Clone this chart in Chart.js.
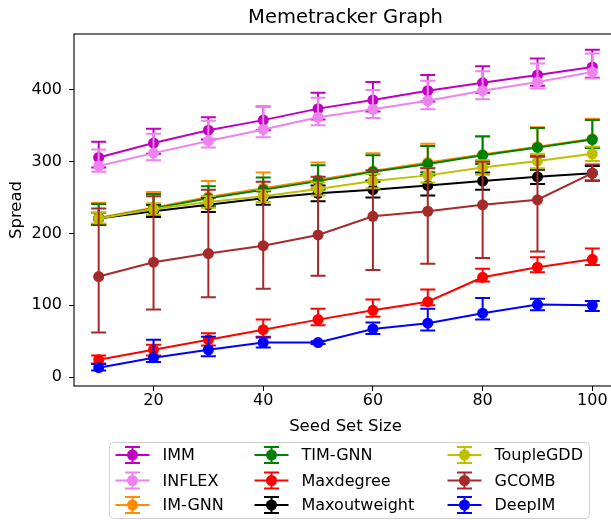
<!DOCTYPE html>
<html>
<head>
<meta charset="utf-8">
<title>Memetracker Graph</title>
<script src="https://cdn.jsdelivr.net/npm/chart.js@4"></script>
<style>
  html, body { margin: 0; padding: 0; background: #fff; overflow: hidden; }
  canvas { display: block; }
</style>
</head>
<body>
<canvas id="spreadChart" width="625" height="520"></canvas>
<script>
const seedSizes = [10, 20, 30, 40, 50, 60, 70, 80, 90, 100];
const xTicks = [20, 40, 60, 80, 100];
const yTicks = [0, 100, 200, 300, 400];

// mean spread per seed size, with the error above and below the mean
const immSpread = [306, 326, 344, 358, 374, 386, 399, 410, 421, 432];
const immErrUp = [22, 20, 18, 19, 22, 25, 22, 23, 23, 24];
const immErrDown = [14, 15, 13, 14, 15, 16, 15, 14, 15, 15];

const inflexSpread = [294, 312, 329, 345, 362, 373, 385, 399, 411, 425];
const inflexErrUp = [23, 27, 28, 32, 27, 27, 28, 27, 26, 26];
const inflexErrDown = [8, 10, 9, 11, 11, 12, 12, 12, 9, 9];

const imGnnSpread = [222, 236, 251, 263, 275, 287, 299, 310, 321, 332];
const imGnnErrUp = [21, 22, 22, 22, 24, 25, 26, 26, 27, 28];
const imGnnErrDown = [10, 11, 12, 12, 12, 13, 13, 13, 12, 12];

const timGnnSpread = [221, 235, 249, 261, 273, 286, 297, 309, 320, 331];
const timGnnErrUp = [20, 20, 17, 17, 22, 23, 25, 26, 27, 27];
const timGnnErrDown = [9, 10, 11, 11, 12, 12, 12, 12, 12, 12];

const maxdegreeSpread = [24, 38, 52, 66, 80, 93, 105, 139, 153, 164];
const maxdegreeErrUp = [6, 7, 9, 14, 15, 15, 17, 12, 14, 15];
const maxdegreeErrDown = [5, 8, 8, 10, 8, 9, 5, 6, 7, 8];

const maxoutweightSpread = [221, 231, 240, 249, 256, 261, 267, 273, 279, 284];
const maxoutweightErrUp = [8, 9, 10, 10, 11, 11, 14, 12, 10, 10];
const maxoutweightErrDown = [8, 8, 10, 9, 11, 11, 14, 12, 10, 10];

const toupleGddSpread = [221, 234, 244, 252, 262, 273, 281, 292, 301, 311];
const toupleGddErrUp = [8, 8, 8, 8, 9, 10, 10, 10, 10, 10];
const toupleGddErrDown = [7, 8, 8, 8, 9, 10, 10, 10, 10, 10];

const gcombSpread = [140, 160, 172, 183, 198, 224, 231, 240, 247, 284];
const gcombErrUp = [95, 92, 89, 89, 81, 64, 60, 60, 60, 12];
const gcombErrDown = [78, 66, 61, 60, 57, 75, 73, 74, 72, 11];

const deepImSpread = [13, 27, 38, 48, 48, 67, 75, 89, 101, 100];
const deepImErrUp = [5, 25, 18, 7, 2, 9, 20, 21, 8, 6];
const deepImErrDown = [4, 6, 9, 7, 2, 7, 10, 9, 8, 8];

const series = [
  { name: 'IMM', color: '#bf00bf', values: immSpread, up: immErrUp, down: immErrDown },
  { name: 'INFLEX', color: '#ee82ee', values: inflexSpread, up: inflexErrUp, down: inflexErrDown },
  { name: 'IM-GNN', color: '#ff8c00', values: imGnnSpread, up: imGnnErrUp, down: imGnnErrDown },
  { name: 'TIM-GNN', color: '#008000', values: timGnnSpread, up: timGnnErrUp, down: timGnnErrDown },
  { name: 'Maxdegree', color: '#ff0000', values: maxdegreeSpread, up: maxdegreeErrUp, down: maxdegreeErrDown },
  { name: 'Maxoutweight', color: '#000000', values: maxoutweightSpread, up: maxoutweightErrUp, down: maxoutweightErrDown },
  { name: 'ToupleGDD', color: '#bfbf00', values: toupleGddSpread, up: toupleGddErrUp, down: toupleGddErrDown },
  { name: 'GCOMB', color: '#a52a2a', values: gcombSpread, up: gcombErrUp, down: gcombErrDown },
  { name: 'DeepIM', color: '#0000ff', values: deepImSpread, up: deepImErrUp, down: deepImErrDown }
];

const FONT = 'DejaVu Sans';
const CAP = 7.5;

// error bars are drawn just before their own line, like matplotlib does
const errorBars = {
  id: 'errorBars',
  beforeDatasetDraw(chart, args) {
    const s = series[args.index];
    const yScale = chart.scales.y;
    const ctx = chart.ctx;
    const area = chart.chartArea;
    ctx.save();
    ctx.beginPath();
    ctx.rect(area.left, area.top, area.right - area.left, area.bottom - area.top);
    ctx.clip();
    ctx.strokeStyle = s.color;
    ctx.lineWidth = 2;
    args.meta.data.forEach((pt, i) => {
      const v = s.values[i];
      const yTop = yScale.getPixelForValue(v + s.up[i]);
      const yBot = yScale.getPixelForValue(v - s.down[i]);
      ctx.beginPath();
      ctx.moveTo(pt.x, yTop);
      ctx.lineTo(pt.x, yBot);
      ctx.moveTo(pt.x - CAP, yTop);
      ctx.lineTo(pt.x + CAP, yTop);
      ctx.moveTo(pt.x - CAP, yBot);
      ctx.lineTo(pt.x + CAP, yBot);
      ctx.stroke();
    });
    ctx.restore();
  }
};

const frameAndLegend = {
  id: 'frameAndLegend',
  afterDatasetsDraw(chart) {
    const { ctx, chartArea: a } = chart;
    ctx.save();
    ctx.strokeStyle = '#000';
    ctx.lineWidth = 1.1;
    ctx.strokeRect(a.left, a.top, a.right - a.left, a.bottom - a.top);
    ctx.restore();
  },
  afterDraw(chart) {
    const { ctx, chartArea: a } = chart;
    ctx.save();

    // title
    ctx.fillStyle = '#000';
    ctx.font = `19.5px "${FONT}"`;
    ctx.textAlign = 'center';
    ctx.textBaseline = 'middle';
    ctx.fillText('Memetracker Graph', (a.left + a.right) / 2, 18);

    // legend box
    const box = { x: 109.5, y: 442.5, w: 480, h: 76 };
    ctx.beginPath();
    ctx.roundRect(box.x, box.y, box.w, box.h, 4);
    ctx.fillStyle = 'rgba(255,255,255,0.8)';
    ctx.fill();
    ctx.strokeStyle = '#d0d0d0';
    ctx.lineWidth = 1;
    ctx.stroke();

    const colX = [6, 145, 338];
    const rowY = [12.5, 38, 62.5];
    ctx.font = `16px "${FONT}"`;
    ctx.textAlign = 'left';
    series.forEach((s, i) => {
      const hx = box.x + colX[Math.floor(i / 3)];
      const hy = box.y + rowY[i % 3];
      const cx = hx + 17;
      ctx.strokeStyle = s.color;
      ctx.fillStyle = s.color;
      ctx.lineWidth = 2;
      ctx.beginPath();
      ctx.moveTo(hx, hy);
      ctx.lineTo(hx + 34, hy);
      ctx.moveTo(cx, hy - 8);
      ctx.lineTo(cx, hy + 8);
      ctx.moveTo(cx - CAP, hy - 8);
      ctx.lineTo(cx + CAP, hy - 8);
      ctx.moveTo(cx - CAP, hy + 8);
      ctx.lineTo(cx + CAP, hy + 8);
      ctx.stroke();
      ctx.beginPath();
      ctx.arc(cx, hy, 5.5, 0, Math.PI * 2);
      ctx.fill();
      ctx.fillStyle = '#000';
      ctx.fillText(s.name, hx + 47, hy + 1);
    });
    ctx.restore();
  }
};

const datasets = series.map((s, i) => ({
  label: s.name,
  data: s.values.map((v, j) => ({ x: seedSizes[j], y: v })),
  borderColor: s.color,
  backgroundColor: s.color,
  borderWidth: 2,
  pointRadius: 5.5,
  pointBorderWidth: 0,
  pointBackgroundColor: s.color,
  tension: 0,
  order: series.length - i
}));

new Chart(document.getElementById('spreadChart'), {
  type: 'line',
  data: { datasets },
  plugins: [errorBars, frameAndLegend],
  options: {
    responsive: false,
    animation: false,
    devicePixelRatio: 1,
    layout: { padding: { top: 34, right: 8, bottom: 0, left: 0 } },
    plugins: {
      legend: { display: false },
      tooltip: { enabled: false },
      title: { display: false }
    },
    scales: {
      x: {
        type: 'linear',
        min: 5.5,
        max: 104.5,
        afterBuildTicks: scale => { scale.ticks = xTicks.map(v => ({ value: v })); },
        afterFit: scale => { scale.height = 134; },
        grid: { drawOnChartArea: false, drawTicks: true, tickLength: 5, tickColor: '#000' },
        border: { display: false },
        ticks: { color: '#000', font: { family: FONT, size: 16 }, padding: 0, maxRotation: 0 },
        title: {
          display: true,
          text: 'Seed Set Size',
          color: '#000',
          font: { family: FONT, size: 16.5 },
          padding: { top: 0, bottom: 83 }
        }
      },
      y: {
        min: -12.5,
        max: 478,
        afterBuildTicks: scale => { scale.ticks = yTicks.map(v => ({ value: v })); },
        afterFit: scale => { scale.width = 74; },
        grid: { drawOnChartArea: false, drawTicks: true, tickLength: 5, tickColor: '#000' },
        border: { display: false },
        ticks: { color: '#000', font: { family: FONT, size: 16 }, padding: 7 },
        title: {
          display: true,
          text: 'Spread',
          color: '#000',
          font: { family: FONT, size: 16.5 },
          padding: { top: 7, bottom: 0 }
        }
      }
    }
  }
});
</script>
</body>
</html>
